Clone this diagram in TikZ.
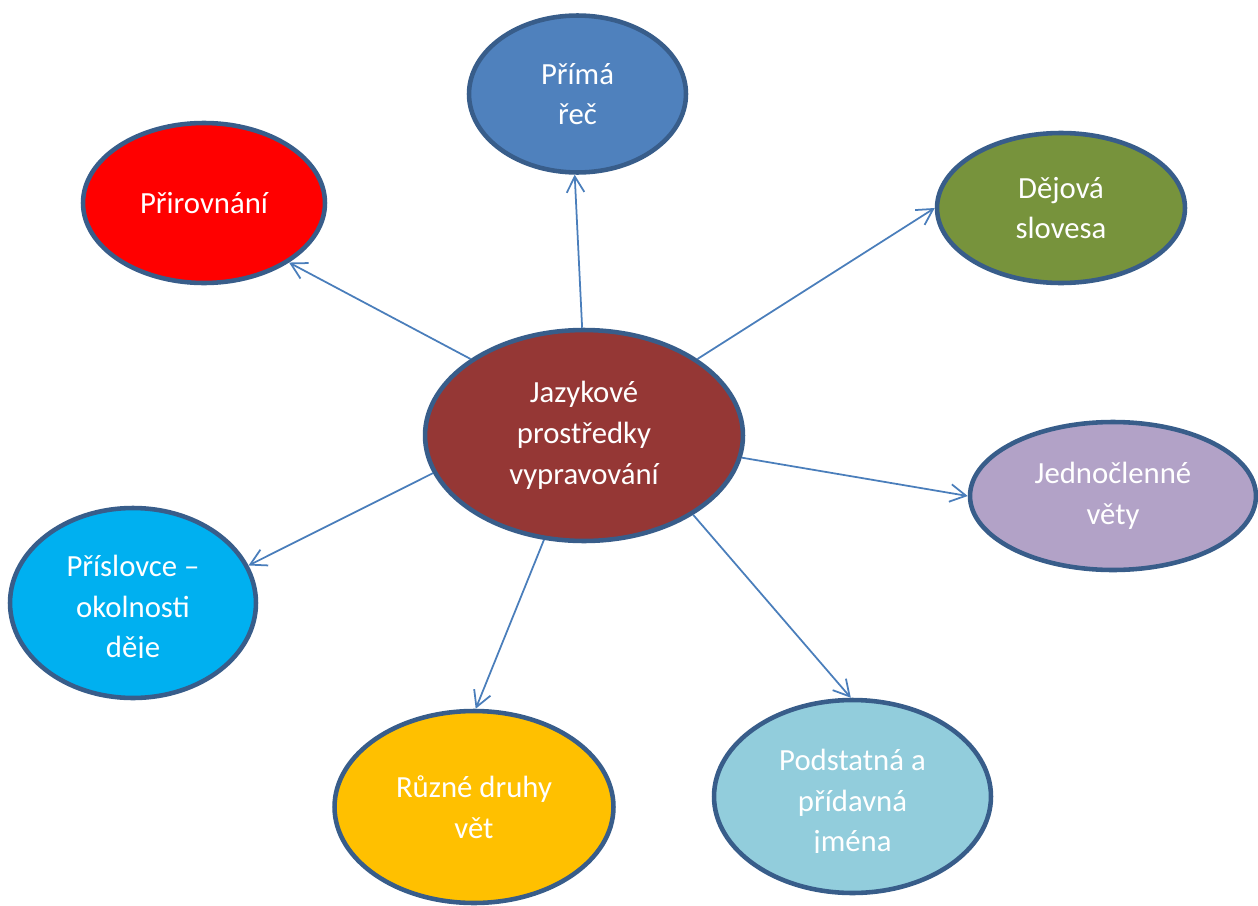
\documentclass[tikz,border=0pt]{standalone}
\usepackage{fontspec}
\setmainfont{Carlito}
\usepackage{xcolor}
\usepackage{tikz}
\usetikzlibrary{shapes.geometric, arrows.meta}
\definecolor{myborder}{RGB}{56,93,138}
\definecolor{myline}{RGB}{74,126,187}
\definecolor{mymaroon}{RGB}{149,55,53}
\definecolor{myblue}{RGB}{79,129,189}
\definecolor{myred}{RGB}{255,0,0}
\definecolor{myolive}{RGB}{119,147,60}
\definecolor{mylilac}{RGB}{178,162,199}
\definecolor{mycyan}{RGB}{0,176,240}
\definecolor{myamber}{RGB}{255,192,0}
\definecolor{mysky}{RGB}{146,205,220}
\tikzset{
  bubble/.style={ellipse, draw=myborder, line width=2.6pt,
    text=white, align=center, inner sep=0pt,
    font=\fontsize{17.5}{23.2}\selectfont},
  bubbletext/.style={text=white, align=center, inner sep=0pt,
    font=\fontsize{17.5}{23.2}\selectfont},
  arrow/.style={-{Straight Barb[length=9pt,width=10pt]}, line width=1pt, color=myline}
}

\begin{document}
\begin{tikzpicture}[x=0.02cm, y=-0.02cm]
  \useasboundingbox (0,0) rectangle (1258,906);

  % Central topic
  \node[bubble, fill=mymaroon, minimum width=6.36cm, minimum height=4.22cm] (center) at (584,435.5)
    {Jazykové\\prostředky\\vypravování};

  % Surrounding topics
  \node[bubble, fill=myblue, minimum width=4.34cm, minimum height=3.14cm] (prima) at (577.5,94) {Přímá\\řeč};
  \node[bubble, fill=myred, minimum width=4.84cm, minimum height=3.20cm] (prirovnani) at (204,203) {Přirovnání};
  \node[bubble, fill=myolive, minimum width=4.96cm, minimum height=3.00cm] (dejova) at (1061,208) {Dějová\\slovesa};
  \node[bubble, fill=mylilac, minimum width=5.72cm, minimum height=2.96cm] (jednoclenne) at (1113,496) {Jednočlenné\\věty};
  \node[bubble, fill=mycyan, minimum width=4.92cm, minimum height=3.80cm] (prislovce) at (133,603) {};
  \node[bubble, fill=myamber, minimum width=5.58cm, minimum height=3.84cm] (ruzne) at (474,807) {Různé druhy\\vět};
  \node[bubble, fill=mysky, minimum width=5.54cm, minimum height=3.86cm] (podstatna) at (852.5,796.5) {};

  % Texts cut off at the bottom
  \begin{scope}
    \clip (0,500) rectangle (270,657);
    \node[bubbletext] (prislovcetext) at (133,609) {Příslovce --\\okolnosti\\děje};
  \end{scope}
  \begin{scope}
    \clip (720,700) rectangle (990,852);
    \node[bubbletext] (podstatnatext) at (852.5,803) {Podstatná a\\přídavná\\jména};
  \end{scope}

  % Arrows from the centre
  \draw[arrow] (center.91) -- (prima.268);
  \draw[arrow] (center.146) -- (prirovnani.325);
  \draw[arrow] (center.34) -- (dejova.180);
  \draw[arrow] (center.352) -- (jednoclenne.180);
  \draw[arrow] (center.194) -- (prislovce.18);
  \draw[arrow] (center.249) -- (ruzne.89);
  \draw[arrow] (center.324) -- (podstatna.91);
\end{tikzpicture}
\end{document}
